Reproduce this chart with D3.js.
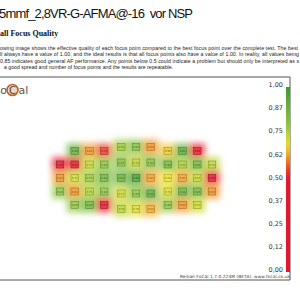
<!DOCTYPE html>
<html>
<head>
<meta charset="utf-8">
<script src="https://cdn.jsdelivr.net/npm/d3@7"></script>
<style>
body { margin: 0; background: #fff; }
svg { display: block; }
</style>
</head>
<body>
<div id="chart"></div>
<script>
const titleText = "5mmf_2,8VR-G-AFMA@-16\u00a0 vor NSP";
const subtitleText = "all Focus Quality";
const introLines = [
    "owing image shows the effective quality of each focus point compared to the best focus point over the complete test. The best",
    "ll always have a value of 1.00, and the ideal results is that all focus points also have a value of 1.00. In reality, all values being",
    "0.85 indicates good general AF performance. Any points below 0.5 could indicate a problem but should only be interpreted as s",
    "a good spread and number of focus points and the results are repeatable."
];
const footerText = "Reikan FoCal 1.7.0.224M (BETA). www.focal.co.uk";

// focus point grid: 5 rows x 11 columns, null = no point
const rowIds = [0, 1, 2, 3, 4];
const colIds = [0, 1, 2, 3, 4, 5, 6, 7, 8, 9, 10];
const colGroups = [0, 0, 0, 0, 1, 1, 1, 2, 2, 2, 2];
const quality = [
    [null, 0.90, 0.62, 0.55, 0.78, 0.82, 0.62, 0.66, 0.92, 0.50, null],
    [0.45, 0.52, 0.73, 0.80, 0.82, 0.74, 0.82, 0.86, 0.76, 0.86, 0.74],
    [0.62, 0.72, 0.78, 0.86, 0.88, 0.96, 0.63, 0.68, 0.63, 0.73, 0.46],
    [0.80, 0.62, 0.75, 0.80, 0.72, 0.80, 0.90, 0.70, 0.88, 0.86, 0.62],
    [null, 0.80, 0.86, 0.52, 0.74, 0.70, 0.64, 0.80, 0.62, 0.72, null]
];

const scaleTicks = [1, 0.875, 0.75, 0.625, 0.5, 0.375, 0.25, 0.125, 0];
const scaleLabels = ["1,00", "0,87", "0,75", "0,62", "0,50", "0,37", "0,25", "0,12", "0,00"];

const W = 300, H = 300;

const svg = d3.select("#chart").append("svg")
    .attr("width", W)
    .attr("height", H);

const color = d3.scaleLinear()
    .domain([0, 0.52, 0.6, 0.68, 0.8, 1])
    .range(["#e5152b", "#e5182b", "#ef7a24", "#efe22c", "#8cc43e", "#3a9a33"])
    .clamp(true);

// header
svg.append("text")
    .attr("x", -1)
    .attr("y", 18)
    .attr("textLength", 194)
    .style("font-family", "'Liberation Sans', Arial, sans-serif")
    .style("font-size", "13px")
    .style("fill", "#111")
    .text(titleText);

svg.append("text")
    .attr("x", 0)
    .attr("y", 35.5)
    .style("font-family", "'Liberation Serif', 'Times New Roman', serif")
    .style("font-weight", "bold")
    .style("font-size", "8px")
    .style("fill", "#111")
    .text(subtitleText);

const introX = [0, 0, 0, 4];
const introLen = [298, 299, 299, 169];
svg.selectAll(".intro")
    .data(introLines)
    .join("text")
    .attr("class", "intro")
    .attr("x", (d, i) => introX[i])
    .attr("y", (d, i) => 49.5 + i * 6.6)
    .attr("textLength", (d, i) => introLen[i])
    .style("font-family", "'Liberation Sans', Arial, sans-serif")
    .style("font-size", "5.2px")
    .style("fill", "#222")
    .text(d => d);

// panel border
const panel = { left: -2, top: 77, right: 290, bottom: 280 };
svg.append("path")
    .attr("d", `M${panel.left},${panel.top}H${panel.right}V${panel.bottom}H${panel.left}`)
    .attr("fill", "none")
    .attr("stroke", "#555")
    .attr("stroke-width", 1);

// logo
const logo = svg.append("g").attr("transform", "translate(0,90)");
logo.append("text")
    .attr("x", 0.3)
    .attr("y", 4)
    .style("font-family", "'DejaVu Sans', sans-serif")
    .style("font-size", "11px")
    .style("fill", "#555")
    .text("o");
logo.append("circle")
    .attr("cx", 12.5)
    .attr("cy", 0)
    .attr("r", 5.5)
    .attr("fill", "#f4d6bd")
    .attr("stroke", "#b8652a")
    .attr("stroke-width", 1.6);
logo.append("text")
    .attr("x", 12.5)
    .attr("y", 4)
    .attr("text-anchor", "middle")
    .style("font-family", "'DejaVu Sans', sans-serif")
    .style("font-size", "10px")
    .style("fill", "#444")
    .text("C");
logo.append("text")
    .attr("x", 18.5)
    .attr("y", 4)
    .style("font-family", "'DejaVu Sans', sans-serif")
    .style("font-size", "11px")
    .style("fill", "#555")
    .text("al");

// heatmap scales
const groupGap = 0.16;
const x = d3.scaleLinear()
    .domain([0, colIds.length - 1 + 2 * groupGap])
    .range([60, 212]);
const yOuter = d3.scaleLinear().domain([0, rowIds.length - 1]).range([151, 205]);
const yCentre = d3.scaleLinear().domain([0, rowIds.length - 1]).range([147, 209]);

const cells = [];
rowIds.forEach(r => {
    colIds.forEach(c => {
        const v = quality[r][c];
        if (v === null) return;
        const g = colGroups[c];
        cells.push({
            row: r, col: c, value: v,
            cx: x(c + g * groupGap),
            cy: g === 1 ? yCentre(r) : yOuter(r)
        });
    });
});

const defs = svg.append("defs");
const blur = defs.append("filter")
    .attr("id", "blur")
    .attr("x", "-20%").attr("y", "-30%")
    .attr("width", "140%").attr("height", "160%");
blur.append("feGaussianBlur").attr("stdDeviation", 3);

svg.append("g")
    .attr("filter", "url(#blur)")
    .attr("opacity", 0.72)
    .selectAll("rect")
    .data(cells)
    .join("rect")
    .attr("x", d => d.cx - 8)
    .attr("y", d => d.cy - 7.5)
    .attr("width", 16)
    .attr("height", 15)
    .attr("fill", d => color(d.value));

const marks = svg.append("g")
    .selectAll("g")
    .data(cells)
    .join("g")
    .attr("transform", d => `translate(${d.cx},${d.cy})`);

marks.append("rect")
    .attr("x", -3.8)
    .attr("y", -3.5)
    .attr("width", 7.6)
    .attr("height", 7)
    .attr("fill", d => d3.interpolateRgb(color(d.value), "#fff")(0.15))
    .attr("stroke", d => d3.color(color(d.value)).darker(1.3))
    .attr("stroke-width", 0.5);

marks.append("text")
    .attr("y", 1)
    .attr("text-anchor", "middle")
    .style("font-family", "'DejaVu Sans', sans-serif")
    .style("font-size", "2.6px")
    .style("fill", d => d3.color(color(d.value)).darker(2))
    .text(d => d.value.toFixed(2));

// colour bar
const barY = d3.scaleLinear().domain([0, 1]).range([272, 87]);
const grad = defs.append("linearGradient")
    .attr("id", "bar-grad")
    .attr("x1", 0).attr("y1", 1)
    .attr("x2", 0).attr("y2", 0);
d3.range(0, 1.0001, 0.05).forEach(t => {
    grad.append("stop")
        .attr("offset", t)
        .attr("stop-color", color(t));
});
svg.append("rect")
    .attr("x", 286)
    .attr("y", barY(1))
    .attr("width", 4)
    .attr("height", barY(0) - barY(1))
    .attr("fill", "url(#bar-grad)");

const barAxis = d3.axisLeft(barY)
    .tickValues(scaleTicks)
    .tickSize(0)
    .tickPadding(3)
    .tickFormat((d, i) => scaleLabels[i]);

const axisG = svg.append("g")
    .attr("transform", "translate(286,0)")
    .call(barAxis);
axisG.select(".domain").remove();
axisG.selectAll("text")
    .attr("dy", "-0.05em")
    .style("font-family", "'DejaVu Sans', sans-serif")
    .style("font-size", "6.5px")
    .style("fill", "#333");

// footer
svg.append("text")
    .attr("x", 290)
    .attr("y", 278)
    .attr("text-anchor", "end")
    .attr("textLength", 110)
    .style("font-family", "'DejaVu Sans', sans-serif")
    .style("font-size", "4.3px")
    .style("fill", "#333")
    .text(footerText);
</script>
</body>
</html>
